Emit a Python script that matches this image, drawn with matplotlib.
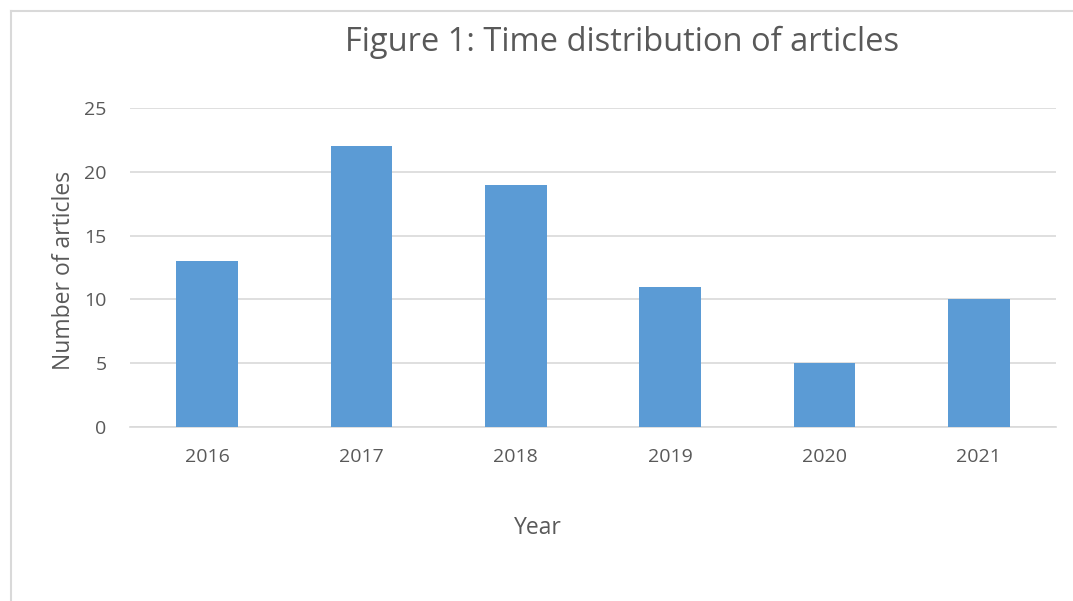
import matplotlib
matplotlib.use("Agg")
import matplotlib.pyplot as plt
from matplotlib.lines import Line2D

years = ["2016", "2017", "2018", "2019", "2020", "2021"]
counts = [13, 22, 19, 11, 5, 10]
yticks = [0, 5, 10, 15, 20, 25]

plt.rcParams['font.family'] = ['Open Sans', 'DejaVu Sans']

W, H = 1073, 601
fig = plt.figure(figsize=(W / 100, H / 100), dpi=100)
ax = fig.add_axes([130 / W, 1 - 427 / H, 926 / W, (427 - 108) / H])

x = list(range(len(years)))
ax.bar(x, counts, width=0.4, color="#5B9BD5", zorder=3)
ax.set_xlim(-0.5, len(years) - 0.5)
ax.set_ylim(0, 25)
ax.set_yticks(yticks)
ax.set_xticks(x)
ax.set_xticklabels(years)
ax.grid(axis='y', color="#D9D9D9", linewidth=1.2, zorder=0)
for s in ['top', 'right', 'left']:
    ax.spines[s].set_visible(False)
ax.spines['bottom'].set_color("#D9D9D9")
ax.spines['bottom'].set_linewidth(1.2)
ax.tick_params(axis='both', length=0, labelsize=14, labelcolor="#595959")
ax.tick_params(axis='x', pad=15)
ax.tick_params(axis='y', pad=17)
ax.set_ylabel("Number of articles", fontsize=16.5, color="#595959")
ax.yaxis.set_label_coords((76 - 130) / 926, 0.49)
fig.text(538 / W, 1 - 528 / H, "Year", fontsize=16.5, color="#595959",
         ha='center', va='center')
fig.text(622 / W, 1 - 42 / H, "Figure 1: Time distribution of articles", fontsize=23.5,
         color="#595959", ha='center', va='center')

# outer frame
fig.add_artist(Line2D([11 / W, 1.0], [1 - 10.5 / H, 1 - 10.5 / H], color="#D9D9D9", lw=1.5, transform=fig.transFigure))
fig.add_artist(Line2D([11 / W, 11 / W], [0, 1 - 10.5 / H], color="#D9D9D9", lw=1.5, transform=fig.transFigure))

fig.savefig("out.png", dpi=100)
